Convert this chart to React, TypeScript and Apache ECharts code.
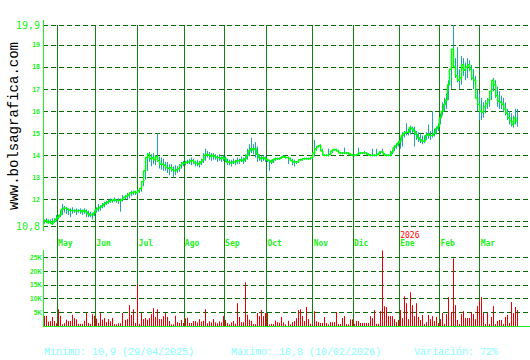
import React, { useEffect, useRef } from 'react';
import * as echarts from 'echarts';

// ---- months / sessions (trading days per month, last month includes future empty slots)
const monthNames = ['Abr', 'May', 'Jun', 'Jul', 'Ago', 'Sep', 'Oct', 'Nov', 'Dic', 'Ene', 'Feb', 'Mar'];
const monthSessions = [7, 19, 21, 23, 20, 21, 23, 20, 23, 20, 20, 25];
const yearMarks: Record<string, string> = { Ene: '2026' };

// ---- daily close
const close = [
  11.0, 11.05, 10.95, 11.0, 10.9, 11.0, 11.1,
  11.2, 11.3, 11.55, 11.62, 11.6, 11.55, 11.5, 11.5, 11.5, 11.48, 11.5, 11.5, 11.45, 11.5, 11.45, 11.35, 11.3, 11.3, 11.4,
  11.55, 11.6, 11.65, 11.7, 11.8, 11.85, 11.9, 11.95, 11.95, 12.0, 11.95, 11.95, 11.95, 12.0, 12.1, 12.15, 12.2, 12.3, 12.3, 12.35, 12.3,
  12.4, 12.5, 12.8, 13.3, 13.9, 14.05, 13.85, 13.9, 13.8, 13.95, 13.75, 13.6, 13.6, 13.55, 13.45, 13.4, 13.45, 13.35, 13.3, 13.35, 13.4, 13.55, 13.65,
  13.65, 13.7, 13.7, 13.75, 13.75, 13.65, 13.65, 13.6, 13.7, 13.8, 14.0, 14.05, 14.0, 13.95, 14.0, 13.95, 13.9, 13.9, 13.85, 13.9,
  13.85, 13.7, 13.7, 13.65, 13.7, 13.7, 13.75, 13.75, 13.8, 13.75, 13.85, 14.0, 14.2, 14.3, 14.25, 14.3, 14.05, 13.9, 13.85, 13.9, 13.85,
  13.8, 13.75, 13.7, 13.8, 13.85, 13.85, 13.85, 13.9, 13.95, 13.9, 13.9, 13.85, 13.75, 13.7, 13.7, 13.7, 13.8, 13.8, 13.85, 13.85, 13.85, 13.85, 13.9,
  14.1, 14.3, 14.4, 14.45, 14.2, 14.0, 14.0, 14.0, 14.05, 14.2, 14.25, 14.25, 14.2, 14.1, 14.1, 14.1, 14.1, 14.1, 14.05, 14.0,
  14.0, 14.0, 14.05, 14.1, 14.1, 14.1, 14.1, 14.05, 14.0, 14.0, 14.0, 14.0, 14.05, 14.15, 14.15, 14.05, 14.0, 14.0, 14.0, 14.15, 14.35, 14.45, 14.55,
  14.65, 14.9, 15.0, 15.05, 15.05, 15.25, 15.2, 15.1, 14.95, 14.8, 14.7, 14.65, 14.65, 14.9, 14.95, 14.9, 14.9, 15.0, 15.2, 15.3,
  15.7, 16.0, 16.3, 16.5, 17.2, 17.9, 18.8, 18.0, 17.6, 17.4, 17.5, 18.1, 17.85, 18.0, 18.1, 17.9, 17.5, 17.4, 16.6, 16.3,
  16.0, 15.95, 16.2, 16.35, 16.5, 16.9, 17.4, 17.2, 16.7, 16.45, 16.4, 16.3, 16.1, 15.9, 15.7, 15.55, 15.4, 15.7, 15.55,
];

// ---- daily high
const high = [
  11.1, 11.15, 11.1, 11.1, 11.15, 11.15, 11.3,
  11.3, 11.5, 11.8, 11.7, 11.65, 11.6, 11.6, 11.65, 11.55, 11.6, 11.55, 11.6, 11.55, 11.6, 11.55, 11.5, 11.45, 11.4, 11.5,
  11.65, 11.8, 11.75, 11.85, 11.9, 11.95, 12.0, 12.05, 12.0, 12.1, 12.0, 12.05, 12.05, 12.2, 12.2, 12.3, 12.3, 12.4, 12.4, 12.4, 12.45,
  12.5, 12.6, 12.95, 13.5, 14.1, 14.15, 14.05, 14.1, 14.0, 15.0, 13.95, 13.9, 13.85, 13.7, 13.7, 13.6, 13.6, 13.5, 13.55, 13.5, 13.6, 13.7, 13.75,
  13.75, 13.8, 13.85, 13.9, 13.85, 13.75, 13.8, 13.75, 13.85, 14.1, 14.3, 14.2, 14.15, 14.1, 14.1, 14.05, 14.0, 14.05, 13.95, 14.0,
  13.95, 13.85, 13.8, 13.8, 13.85, 13.8, 13.9, 13.85, 13.95, 13.9, 14.05, 14.3, 14.5, 14.8, 14.5, 14.6, 14.4, 14.05, 14.0, 14.0, 13.95,
  13.85, 13.8, 13.8, 13.85, 13.9, 13.9, 13.9, 13.95, 14.0, 13.95, 13.95, 13.9, 13.85, 13.8, 13.75, 13.8, 13.85, 13.85, 13.9, 13.9, 13.9, 13.9, 13.95,
  14.7, 14.4, 14.45, 14.5, 14.3, 14.05, 14.05, 14.3, 14.1, 14.25, 14.3, 14.3, 14.25, 14.15, 14.15, 14.35, 14.15, 14.15, 14.1, 14.05,
  14.05, 14.05, 14.35, 14.15, 14.15, 14.2, 14.15, 14.1, 14.05, 14.3, 14.05, 14.3, 14.1, 14.2, 14.3, 14.1, 14.05, 14.05, 14.2, 14.25, 14.45, 14.55, 14.65,
  14.8, 15.05, 15.1, 15.45, 15.2, 15.35, 15.3, 15.3, 15.1, 15.05, 14.95, 14.9, 14.9, 15.05, 15.4, 15.1, 16.0, 15.2, 15.3, 15.45,
  15.9, 16.4, 16.6, 16.8, 17.4, 18.2, 19.9, 18.4, 18.9, 17.9, 18.5, 18.4, 18.2, 18.4, 18.3, 18.1, 17.9, 17.6, 17.0, 16.8,
  16.6, 16.4, 16.5, 16.6, 16.9, 17.3, 17.5, 17.4, 17.1, 16.9, 16.7, 16.6, 16.4, 16.1, 16.0, 15.9, 15.8, 16.1, 16.1,
];

// ---- daily low
const low = [
  10.9, 10.95, 10.9, 10.9, 10.85, 10.95, 11.0,
  11.1, 11.2, 11.3, 11.4, 11.35, 11.3, 11.2, 11.35, 11.4, 11.3, 11.4, 11.35, 11.3, 11.35, 11.2, 11.2, 11.2, 11.1, 11.25,
  11.4, 11.45, 11.5, 11.6, 11.65, 11.75, 11.8, 11.85, 11.85, 11.9, 11.85, 11.8, 11.45, 11.9, 12.0, 12.0, 12.05, 12.15, 12.2, 12.2, 12.2,
  12.3, 12.35, 12.6, 12.9, 13.3, 13.7, 13.5, 13.6, 13.55, 13.7, 13.4, 13.35, 13.3, 13.3, 13.2, 13.1, 13.25, 13.0, 13.1, 13.2, 13.25, 13.4, 13.5,
  13.55, 13.6, 13.6, 13.55, 13.6, 13.5, 13.5, 13.45, 13.55, 13.65, 13.75, 13.9, 13.8, 13.75, 13.8, 13.8, 13.7, 13.75, 13.7, 13.75,
  13.7, 13.55, 13.55, 13.5, 13.6, 13.55, 13.6, 13.6, 13.7, 13.6, 13.7, 13.8, 13.95, 14.1, 14.05, 13.9, 13.7, 13.75, 13.7, 13.75, 13.7,
  13.7, 13.3, 13.6, 13.65, 13.75, 13.8, 13.8, 13.85, 13.9, 13.85, 13.6, 13.75, 13.55, 13.5, 13.6, 13.65, 13.75, 13.75, 13.8, 13.8, 13.8, 13.8, 13.85,
  13.95, 14.2, 14.35, 14.35, 14.1, 13.95, 13.95, 13.95, 14.0, 14.1, 14.2, 14.2, 14.15, 14.05, 14.05, 14.05, 14.05, 14.05, 14.0, 13.95,
  13.95, 13.95, 14.0, 14.05, 14.05, 14.05, 14.05, 14.0, 13.95, 13.95, 13.95, 13.95, 14.0, 14.05, 14.1, 14.0, 13.95, 13.95, 13.95, 14.05, 14.2, 14.3, 14.4,
  14.3, 14.4, 14.8, 14.9, 14.9, 14.95, 15.0, 14.4, 14.7, 14.6, 14.55, 14.5, 14.55, 14.7, 14.75, 14.7, 14.8, 14.85, 14.95, 15.1,
  15.4, 15.8, 16.0, 16.1, 16.5, 17.0, 18.0, 17.5, 17.3, 17.0, 17.2, 17.6, 17.4, 17.5, 17.8, 17.4, 17.0, 16.8, 16.0, 15.6,
  15.6, 15.7, 15.9, 16.1, 16.2, 16.5, 16.9, 16.6, 16.2, 16.1, 16.1, 15.95, 15.8, 15.6, 15.4, 15.3, 15.25, 15.4, 15.3,
];

// ---- daily volume, thousands of shares
const volumeK = [
  3.7, 3.7, 1.6, 1.8, 3.3, 1.8, 1.0,
  6.1, 3.7, 0.6, 1.0, 2.3, 1.8, 1.8, 4.1, 2.9, 2.4, 0.8, 0.8, 0.8, 1.9, 4.7, 1.1, 0.8, 4.3, 3.7,
  2.7, 1.1, 4.7, 2.3, 2.9, 1.4, 2.5, 1.7, 2.9, 0.7, 0.6, 1.0, 1.0, 4.7, 2.2, 2.5, 7.6, 4.0, 6.1, 1.1, 15.1,
  0.8, 4.7, 2.5, 2.9, 2.3, 2.9, 4.3, 6.5, 3.3, 6.1, 2.5, 2.5, 3.6, 4.7, 3.3, 1.8, 0.6, 0.6, 3.7, 1.4, 1.1, 2.2, 1.1,
  2.8, 3.0, 1.1, 1.1, 1.8, 1.8, 1.3, 2.5, 1.6, 1.9, 6.1, 1.0, 1.7, 1.3, 2.5, 1.3, 1.0, 1.7, 1.3, 3.6,
  2.2, 1.1, 0.6, 1.3, 1.8, 0.8, 8.3, 3.3, 1.4, 1.4, 15.9, 4.1, 2.3, 1.9, 0.7, 0.7, 4.7, 3.6, 5.8, 3.6, 4.7,
  4.7, 0.6, 0.8, 0.7, 2.0, 1.4, 1.2, 3.3, 1.3, 0.6, 1.9, 0.6, 1.4, 1.8, 2.8, 5.8, 6.1, 3.6, 1.8, 6.9, 2.5, 0.8, 0.6,
  5.4, 1.7, 1.4, 1.1, 1.1, 3.3, 1.1, 0.6, 1.4, 1.4, 1.4, 5.1, 0.7, 0.7, 2.9, 3.6, 0.7, 0.6, 2.4, 2.4,
  0.8, 1.8, 1.8, 1.1, 1.1, 1.1, 1.1, 1.1, 3.6, 2.9, 5.8, 0.8, 0.8, 5.4, 27.5, 7.2, 6.9, 3.6, 3.6, 3.6, 2.5, 1.4, 2.2,
  5.8, 2.9, 10.8, 8.3, 2.5, 12.3, 7.6, 3.6, 8.3, 3.3, 2.2, 4.0, 0.7, 1.4, 4.0, 2.5, 3.6, 1.8, 3.3, 1.1,
  2.5, 4.7, 0.8, 4.3, 10.5, 5.1, 24.6, 7.6, 2.2, 0.7, 4.3, 5.4, 2.9, 2.9, 2.9, 5.1, 4.3, 2.5, 7.2, 9.0,
  10.5, 4.7, 0.7, 4.7, 0.7, 3.3, 7.2, 0.7, 1.8, 2.2, 2.2, 0.7, 3.3, 4.0, 1.1, 8.7, 4.7, 6.9, 5.8,
];

// ---- axis levels / tick labels
const priceMin = 10.8;
const priceMax = 19.9;
const priceLevels = [19.9, 19, 18, 17, 16, 15, 14, 13, 12, 11, 10.8];
const priceLevelLabels = ['19,9', '19', '18', '17', '16', '15', '14', '13', '12', '', '10,8'];
const volumeMax = 36.4;
const volumeLevels = [25, 20, 15, 10, 5];
const volumeLevelLabels = ['25K', '20K', '15K', '10K', '5K'];

const footerTexts = ['Minimo: 10,9 (29/04/2025)', 'Maximo: 18,8 (10/02/2026)', 'Variación: 72%'];
const watermark = 'www.bolsagrafica.com';

// ---- colours
const LIME = '#22ee22';
const DASH = '#0a6a0a';
const VLINE = '#118211';
const TEAL = '#1fa2b2';
const RED = '#e80000';

const categories: string[] = [];
const monthStart: Record<number, string> = {};
monthNames.forEach((m, mi) => {
  for (let d = 0; d < monthSessions[mi]; d++) {
    if (d === 0 && mi > 0) monthStart[categories.length] = m;
    categories.push(`${m} ${d + 1}`);
  }
});

const isMonthStart = (i: number) => monthStart[i] !== undefined;

// vertical stick between two values of one category, pixel-snapped
const stick = (color: string) => (_params: any, api: any) => {
  const a = api.coord([api.value(0), api.value(1)]);
  const b = api.coord([api.value(0), api.value(2)]);
  const x = Math.round(a[0]) + 0.5;
  return {
    type: 'line',
    shape: { x1: x, y1: a[1], x2: x, y2: b[1] },
    style: { stroke: color, lineWidth: 1, fill: null },
  };
};

function buildOption(): any {
  const closeData = categories.map((_, i) => (i < close.length ? close[i] : null));
  const hlData = close.map((_, i) => [i, low[i], high[i]]);
  const volData = volumeK.map((v, i) => [i, 0, v]);

  const bigLabel = { fontFamily: 'DejaVu Sans Mono', fontSize: 10, fontWeight: 'normal', color: LIME };
  const smallLabel = { fontFamily: 'Liberation Sans', fontSize: 7, fontWeight: 'bold', color: LIME };

  return {
    animation: false,
    backgroundColor: '#ffffff',
    grid: [
      { left: 43, right: -1, top: 25, bottom: 134, containLabel: false },
      { left: 43, right: -1, top: 226, bottom: 34, containLabel: false },
    ],
    xAxis: [
      {
        type: 'category',
        gridIndex: 0,
        data: categories,
        boundaryGap: true,
        axisLine: { show: false },
        axisTick: { show: false },
        axisLabel: {
          show: true,
          interval: (i: number) => isMonthStart(i),
          align: 'left',
          margin: 5,
          formatter: (_v: string, i: number) => {
            const m = monthStart[i];
            if (!m) return '';
            return `{yr|${yearMarks[m] ?? ' '}}\n{m|${m}}`;
          },
          rich: {
            yr: { color: '#ff0000', fontFamily: 'DejaVu Sans Mono', fontSize: 8, lineHeight: 8 },
            m: { color: LIME, fontFamily: 'DejaVu Sans Mono', fontWeight: 'bold', fontSize: 8, lineHeight: 9 },
          },
        },
        splitLine: {
          show: true,
          interval: (i: number) => isMonthStart(i),
          lineStyle: { color: VLINE, width: 1 },
        },
      },
      {
        type: 'category',
        gridIndex: 1,
        data: categories,
        boundaryGap: true,
        axisLine: { show: true, lineStyle: { color: LIME, width: 1 } },
        axisTick: { show: false },
        axisLabel: { show: false },
        splitLine: {
          show: true,
          interval: (i: number) => isMonthStart(i),
          lineStyle: { color: VLINE, width: 1 },
        },
      },
    ],
    yAxis: [
      { type: 'value', gridIndex: 0, min: priceMin, max: priceMax, show: false },
      { type: 'value', gridIndex: 1, min: 0, max: volumeMax, show: false },
    ],
    series: [
      {
        type: 'custom',
        name: 'range',
        xAxisIndex: 0,
        yAxisIndex: 0,
        z: 2,
        clip: true,
        encode: { x: 0, y: [1, 2] },
        data: hlData,
        renderItem: stick(TEAL),
        markLine: {
          silent: true,
          z: 1,
          symbol: ['none', 'none'],
          lineStyle: { color: DASH, type: [5, 3], width: 1 },
          label: { show: true, position: 'start', distance: 3 },
          data: priceLevels.map((v, i) => ({
            yAxis: v,
            label: {
              formatter: priceLevelLabels[i],
              ...(i === 0 || i === priceLevels.length - 1 ? bigLabel : smallLabel),
            },
          })),
        },
      },
      {
        type: 'line',
        name: 'close',
        xAxisIndex: 0,
        yAxisIndex: 0,
        z: 3,
        data: closeData,
        step: 'middle',
        symbol: 'none',
        lineStyle: { color: '#00ff00', width: 1.5 },
      },
      {
        type: 'custom',
        name: 'volume',
        xAxisIndex: 1,
        yAxisIndex: 1,
        z: 2,
        clip: true,
        encode: { x: 0, y: [1, 2] },
        data: volData,
        renderItem: stick(RED),
        markLine: {
          silent: true,
          z: 1,
          symbol: ['none', 'none'],
          lineStyle: { color: DASH, type: [5, 3], width: 1 },
          label: {
            show: true,
            position: 'start',
            distance: 1,
            fontFamily: 'Liberation Sans',
            fontSize: 6.5,
            fontWeight: 'bold',
            color: LIME,
          },
          data: volumeLevels.map((v, i) => ({ yAxis: v, label: { formatter: volumeLevelLabels[i] } })),
        },
      },
    ],
    graphic: [
      { type: 'line', shape: { x1: 43.5, y1: 20, x2: 43.5, y2: 231 }, style: { stroke: LIME, lineWidth: 1 }, z: 10 },
      { type: 'line', shape: { x1: 43.5, y1: 250, x2: 43.5, y2: 326 }, style: { stroke: LIME, lineWidth: 1 }, z: 10 },
      {
        type: 'text',
        x: 14,
        y: 126,
        rotation: Math.PI / 2,
        style: {
          text: watermark,
          fontFamily: 'Liberation Mono',
          fontSize: 14,
          fill: '#000000',
          align: 'center',
          verticalAlign: 'middle',
        },
      },
      ...footerTexts.map((t, i) => ({
        type: 'text',
        x: [44, 231, 414][i],
        y: 352,
        style: {
          text: t,
          fontFamily: 'Liberation Mono',
          fontSize: 10,
          fill: '#88ffff',
          align: 'left',
          verticalAlign: 'middle',
        },
      })),
    ],
  };
}

export default function App() {
  const ref = useRef<HTMLDivElement>(null);
  useEffect(() => {
    document.body.style.margin = '0';
    const chart = echarts.init(ref.current!, null, { renderer: 'svg' });
    chart.setOption(buildOption());
    return () => chart.dispose();
  }, []);
  return (
    <div
      ref={ref}
      style={{ position: 'absolute', left: 0, top: 0, width: 530, height: 360, background: '#ffffff' }}
    />
  );
}
